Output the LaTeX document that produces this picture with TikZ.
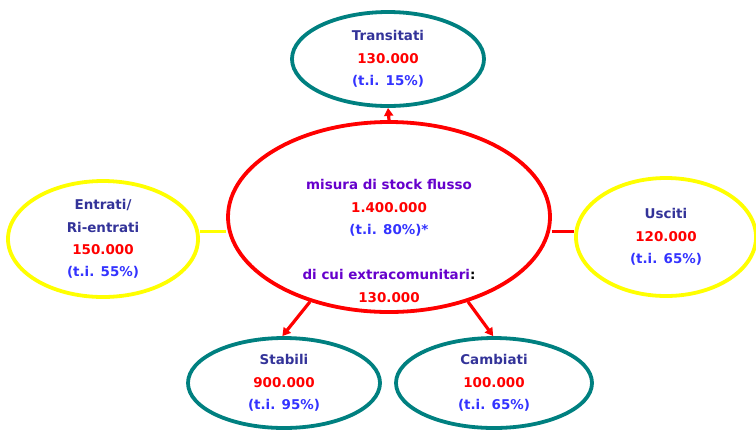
\documentclass[tikz,border=0pt]{standalone}
\usepackage{fontspec}
\setmainfont{DejaVu Sans}
\usetikzlibrary{shapes.geometric,arrows.meta}
\definecolor{tealc}{RGB}{0,128,128}
\definecolor{yel}{RGB}{255,255,0}
\definecolor{redc}{RGB}{255,0,0}
\definecolor{navy}{RGB}{51,51,153}
\definecolor{blu}{RGB}{51,51,255}
\definecolor{purp}{RGB}{102,0,204}
\tikzset{
  oval/.style={ellipse, line width=3.8bp, inner sep=0pt, align=center,
     font=\bfseries\fontsize{13.5}{22.5}\selectfont},
  tealoval/.style={oval, draw=tealc},
  yeloval/.style={oval, draw=yel},
  redoval/.style={oval, draw=redc},
  txt/.style={align=center, inner sep=0pt, font=\bfseries\fontsize{13.5}{22.5}\selectfont},
  arr/.style={draw=redc, line width=3.2bp, -{Triangle[length=8bp,width=9bp]}},
  link/.style={line width=3bp}
}
\newcommand{\ttl}[1]{\textcolor{navy}{#1}}
\newcommand{\num}[1]{\textcolor{redc}{#1}}
\newcommand{\ti}[1]{\textcolor{blu}{#1}}
\begin{document}
\begin{tikzpicture}[x=1bp,y=-1bp]
\useasboundingbox (0,0) rectangle (756,429);
\node[redoval, minimum width=322bp, minimum height=190bp] (c) at (389,217) {};
\node[txt] (ct) at (389,241) {\textcolor{purp}{misura di stock flusso}\\ \num{1.400.000}\\ \ti{(t.i. 80\%)*}\\[0pt] \strut\\ \textcolor{purp}{di cui extracomunitari}:\\ \num{130.000}};
\node[tealoval, minimum width=192bp, minimum height=94bp] (tr) at (388,59) {\ttl{Transitati}\\ \num{130.000}\\ \ti{(t.i. 15\%)}};
\node[yeloval, minimum width=190bp, minimum height=116bp] (en) at (103,239) {\ttl{Entrati/}\\ \ttl{Ri-entrati}\\ \num{150.000}\\ \ti{(t.i. 55\%)}};
\node[yeloval, minimum width=180bp, minimum height=118bp] (us) at (666,237) {\ttl{Usciti}\\ \num{120.000}\\ \ti{(t.i. 65\%)}};
\node[tealoval, minimum width=192bp, minimum height=90bp] (st) at (284,383) {\ttl{Stabili}\\ \num{900.000}\\ \ti{(t.i. 95\%)}};
\node[tealoval, minimum width=196bp, minimum height=90bp] (ca) at (494,383) {\ttl{Cambiati}\\ \num{100.000}\\ \ti{(t.i. 65\%)}};
\draw[arr] (c.north) -- (tr.south);
\draw[arr] (c.227) -- (st.92);
\draw[arr] (c.313) -- (ca.91);
\draw[link, draw=yel] (en.east |- 0,231) -- (c.west |- 0,231);
\draw[link, draw=redc] (c.east |- 0,231) -- (us.west |- 0,231);
\end{tikzpicture}
\end{document}
